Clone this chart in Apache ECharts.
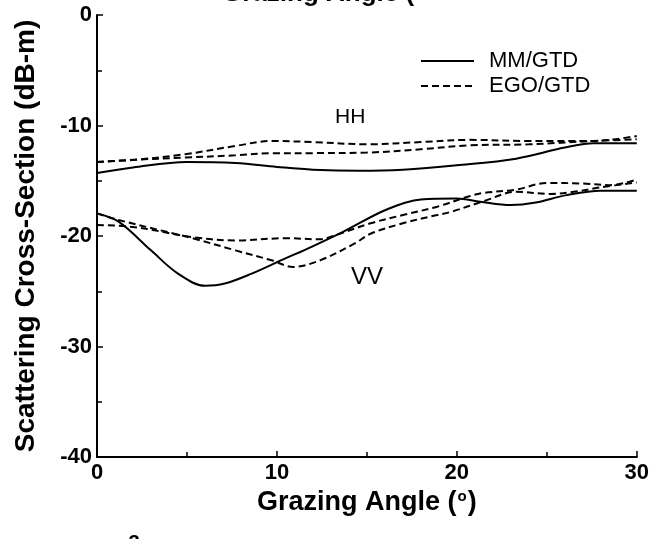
<!DOCTYPE html>
<html>
<head>
<meta charset="utf-8">
<script src="https://cdn.jsdelivr.net/npm/echarts@6/dist/echarts.min.js"></script>
<style>
html,body{margin:0;padding:0;background:#fff;}
#chart{width:652px;height:539px;}
</style>
</head>
<body>
<div id="chart"></div>
<script>
// ---- Data ----
const xTicks = [0, 10, 20, 30];
const yTicks = [0, -10, -20, -30, -40];

const hhMM_x = [0, 2, 5, 7.7, 10, 12, 14.6, 17, 20, 23.3, 26, 27.6, 30];
const hhMM_y = [-14.3, -13.8, -13.3, -13.4, -13.75, -14.0, -14.1, -14.0, -13.6, -13.0, -12.0, -11.6, -11.6];

const hhEgoA_x = [0, 2.1, 4.9, 7.7, 9.7, 12, 15, 18, 20.7, 24, 27.6, 30];
const hhEgoA_y = [-13.3, -13.1, -12.6, -11.85, -11.4, -11.5, -11.7, -11.5, -11.3, -11.4, -11.4, -10.95];

const hhEgoB_x = [0, 2.1, 4.9, 7.7, 9.7, 12, 15, 18, 20.7, 24, 27.6, 30];
const hhEgoB_y = [-13.3, -13.1, -12.9, -12.7, -12.5, -12.5, -12.45, -12.15, -11.8, -11.7, -11.4, -11.25];

const vvMM_x = [0, 1.2, 3, 4.5, 6, 7.1, 8.6, 10.5, 11.5, 13.7, 16.1, 18, 20, 21.3, 23, 24.3, 26.1, 28, 30];
const vvMM_y = [-17.95, -18.7, -21.3, -23.4, -24.5, -24.3, -23.4, -22.0, -21.3, -19.6, -17.6, -16.7, -16.6, -16.9, -17.2, -17.0, -16.3, -15.9, -15.9];

const vvEgoC_x = [0, 1.2, 5.3, 7.7, 9.7, 10.9, 12.4, 14.3, 15.2, 17, 18.9, 19.6, 21.5, 23.3, 25.2, 26.5, 28, 30];
const vvEgoC_y = [-17.95, -18.55, -20.2, -21.3, -22.2, -22.8, -22.2, -20.7, -19.8, -18.85, -18.1, -17.85, -16.85, -16.0, -16.2, -16.0, -15.6, -15.15];

const vvEgoD_x = [0, 2.1, 5.3, 7.7, 10.5, 12.4, 13.3, 15.2, 17, 18.9, 20.7, 21.5, 23.3, 25, 27, 28.5, 30];
const vvEgoD_y = [-19.0, -19.2, -20.1, -20.4, -20.2, -20.3, -19.9, -18.85, -18.1, -17.35, -16.4, -16.1, -15.8, -15.2, -15.25, -15.4, -14.9];

const legendNames = ['MM/GTD', 'EGO/GTD'];
const xTitle = 'Grazing Angle ({s|o})';
const yTitle = 'Scattering Cross-Section (dB-m)';

function pairs(xs, ys) { return xs.map((x, i) => [x, ys[i]]); }

const FONT = 'Liberation Sans, Arial, Helvetica, sans-serif';
const solidStyle = { color: '#000', width: 2, type: 'solid' };
const dashStyle = { color: '#000', width: 2, type: [7, 4] };

function mk(name, xs, ys, style) {
  return {
    name: name, type: 'line', data: pairs(xs, ys), smooth: 0.35,
    symbol: 'none', showSymbol: false, lineStyle: style, itemStyle: { color: '#000' },
    animation: false, z: 3
  };
}

const chart = echarts.init(document.getElementById('chart'), null, { renderer: 'canvas' });
chart.setOption({
  backgroundColor: '#fff',
  animation: false,
  grid: { left: 97, right: 15, top: 15, bottom: 82, containLabel: false },
  legend: {
    data: legendNames,
    orient: 'vertical', left: 415, top: 45,
    itemWidth: 53, itemHeight: 14, itemGap: 3,
    lineStyle: { width: 2 },
    itemStyle: { opacity: 0 },
    textStyle: { fontFamily: FONT, fontSize: 22, color: '#000', padding: [0, 0, 0, 10] },
    selectedMode: false
  },
  xAxis: {
    type: 'value', min: xTicks[0], max: xTicks[xTicks.length - 1], interval: 10,
    name: xTitle, nameLocation: 'middle', nameGap: 27,
    nameTextStyle: { fontFamily: FONT, fontSize: 27, fontWeight: 'bold', color: '#000',
      rich: { s: { fontSize: 15, fontWeight: 'bold', verticalAlign: 'top', padding: [0, 1, 10, 1], fontFamily: FONT, color: '#000' } } },
    axisLine: { show: true, onZero: false, lineStyle: { color: '#000', width: 2 } },
    axisTick: { show: true, inside: true, length: 6, lineStyle: { color: '#000', width: 1.5 } },
    minorTick: { show: true, splitNumber: 2, length: 5, lineStyle: { color: '#000', width: 1.5 } },
    axisLabel: { fontFamily: FONT, fontSize: 22, fontWeight: 'bold', color: '#000', margin: 5,
      formatter: v => String(v) },
    splitLine: { show: false }
  },
  yAxis: {
    type: 'value', min: yTicks[yTicks.length - 1], max: yTicks[0], interval: 10,
    name: yTitle, nameLocation: 'middle', nameGap: 57, nameRotate: 90,
    nameTextStyle: { fontFamily: FONT, fontSize: 28, fontWeight: 'bold', color: '#000' },
    axisLine: { show: true, onZero: false, lineStyle: { color: '#000', width: 2 } },
    axisTick: { show: true, inside: true, length: 6, lineStyle: { color: '#000', width: 1.5 } },
    minorTick: { show: true, splitNumber: 2, length: 5, lineStyle: { color: '#000', width: 1.5 } },
    axisLabel: { fontFamily: FONT, fontSize: 22, fontWeight: 'bold', color: '#000', margin: 5 },
    splitLine: { show: false }
  },
  series: [
    mk('MM/GTD', hhMM_x, hhMM_y, solidStyle),
    mk('EGO/GTD', hhEgoA_x, hhEgoA_y, dashStyle),
    mk('EGO/GTD', hhEgoB_x, hhEgoB_y, dashStyle),
    mk('MM/GTD', vvMM_x, vvMM_y, solidStyle),
    mk('EGO/GTD', vvEgoC_x, vvEgoC_y, dashStyle),
    mk('EGO/GTD', vvEgoD_x, vvEgoD_y, dashStyle)
  ],
  graphic: [
    { type: 'text', left: 335, top: 107, style: { text: 'HH', fontFamily: FONT, fontSize: 21, fill: '#000' } },
    { type: 'text', left: 351, top: 265, style: { text: 'VV', fontFamily: FONT, fontSize: 24, fill: '#000' } },
    { type: 'text', left: 222, top: -19, style: { text: 'Grazing Angle (', fontFamily: FONT, fontSize: 26, fontWeight: 'bold', fill: '#000' } },
    { type: 'text', left: 128, top: 530, style: { text: 'a', fontFamily: FONT, fontSize: 22, fontWeight: 'bold', fill: '#000' } }
  ]
});
</script>
</body>
</html>
